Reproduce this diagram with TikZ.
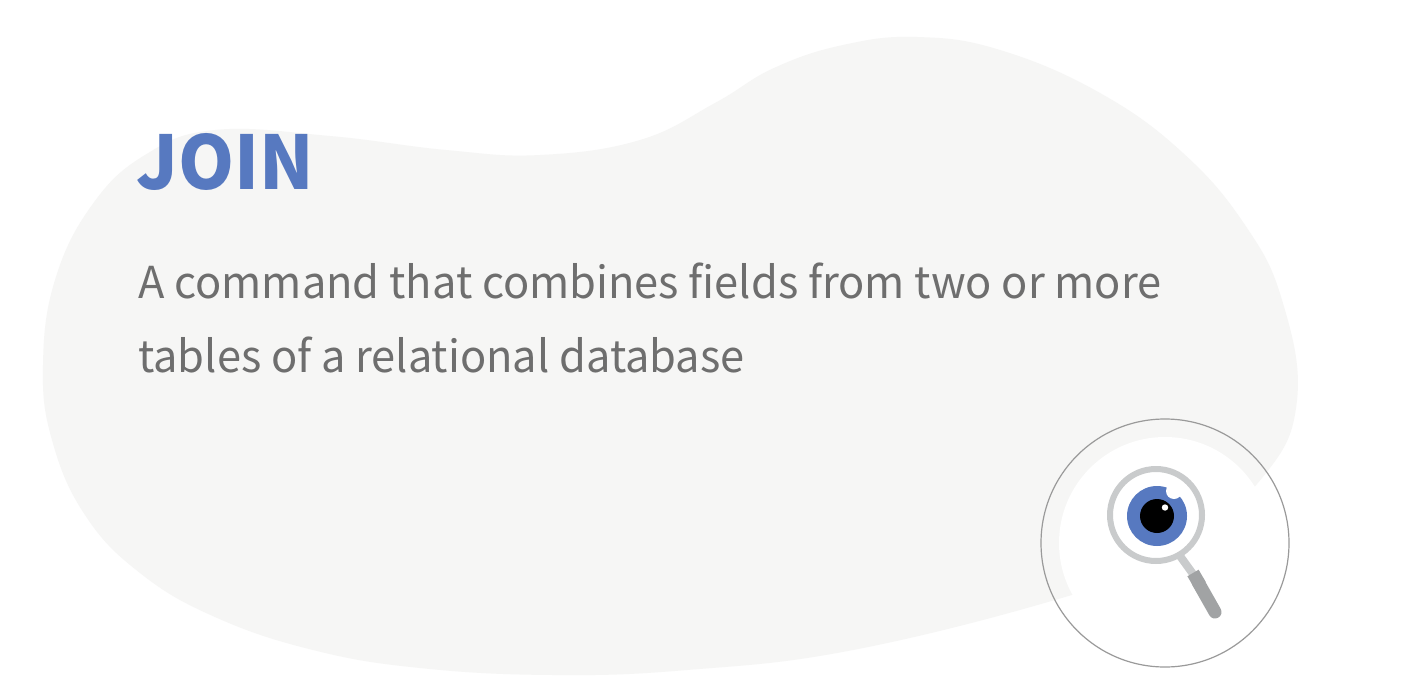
\documentclass[tikz,border=0pt]{standalone}
\usepackage{xcolor}
\usepackage{fontspec}
\setmainfont{Noto Sans CJK KR}[FakeStretch=0.986,BoldFeatures={FakeStretch=0.965}]
\definecolor{blobGray}{HTML}{F6F6F5}
\definecolor{joinBlue}{HTML}{5779C0}
\definecolor{bodyGray}{HTML}{6E6E6E}
\definecolor{ringGray}{HTML}{C9CBCC}
\definecolor{handleGray}{HTML}{A1A3A4}
\definecolor{circleGray}{HTML}{9A9A9A}
\begin{document}
\begin{tikzpicture}[x=1pt, y=-1pt,
        titletext/.style={anchor=base west, inner sep=0pt, text=joinBlue, font=\fontsize{74}{74}\selectfont\bfseries},
        bodytext/.style={anchor=base west, inner sep=0pt, text=bodyGray, font=\fontsize{44}{44}\selectfont}]
                \useasboundingbox (0, 0) rectangle (1424, 693);
                \fill[white] (0, 0) rectangle (1424, 693);
                \fill[blobGray] plot[smooth cycle, tension=0.7] coordinates {
                    (215,130) (330,136) (446,150) (540,155) (640,140) (715,103) (774,68) (843,45)
                    (917,37) (1000,50) (1100,93) (1183,153) (1245,225) (1282,300)
                    (1297,400) (1262,478) (1170,556) (1065,597) (853,650) (687,670)
                    (553,675) (420,668) (313,650) (215,617) (140,573) (85,515) (52,440) (43,365)
                    (55,280) (92,205) (145,155)};
                \node[titletext] (title) at (136, 189) {JOIN};
                \node[bodytext] (line1) at (138, 298) {A command that combines fields from two or more};
                \node[bodytext] (line2) at (138, 372) {tables of a relational database};
                % lens badge
                \fill[white] (1165, 543) circle (106);
                \draw[circleGray, line width=1.2pt] (1165, 543) circle (124);
                \draw[ringGray, line width=8pt] (1180, 556) -- (1193, 574);
                \draw[handleGray, line width=13pt] (1193, 573) -- (1200, 585);
                \draw[handleGray, line width=13pt, line cap=round] (1198, 582) -- (1215, 612);
                \fill[white] (1156, 515) circle (46);
                \draw[ringGray, line width=6pt] (1156, 515) circle (46);
                \fill[joinBlue] (1157, 516) circle (30);
                \fill[white] (1174, 491) circle (8);
                \fill[black] (1157, 516) circle (17);
                \fill[white] (1165, 507.5) circle (3.2);
            \end{tikzpicture}
\end{document}
